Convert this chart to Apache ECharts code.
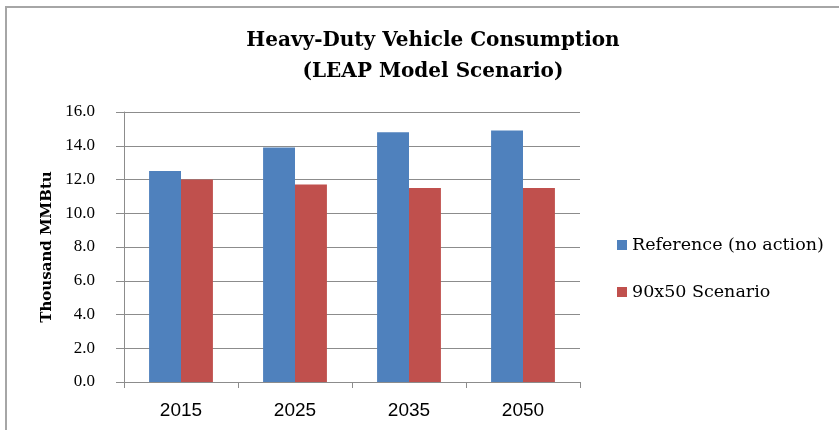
<!doctype html>
<html>
<head>
<meta charset="utf-8">
<script src="https://cdn.jsdelivr.net/npm/echarts@6/dist/echarts.min.js"></script>
<style>
  html, body { margin:0; padding:0; background:#fff; }
  #main { width:839px; height:430px; }
</style>
</head>
<body>
<div id="main"></div>
<script>
var years = ['2015', '2025', '2035', '2050'];
var referenceVals = [12.5, 13.9, 14.8, 14.9];
var scenarioVals = [12.0, 11.7, 11.5, 11.5];
var yTicks = [0, 2, 4, 6, 8, 10, 12, 14, 16];

var serif = '"DejaVu Serif", serif';
var tickSerif = '"Liberation Serif", serif';

var chart = echarts.init(document.getElementById('main'));

var option = {
  backgroundColor: '#fff',
  animation: false,
  graphic: [{
    type: 'rect',
    shape: { x: 6, y: 7, width: 900, height: 500 },
    style: { fill: 'none', stroke: '#a6a6a6', lineWidth: 2 },
    silent: true
  }],
  title: {
    text: 'Heavy-Duty Vehicle Consumption\n(LEAP Model Scenario)',
    left: 428,
    top: 20,
    textAlign: 'center',
    textStyle: {
      fontFamily: serif,
      fontWeight: 'bold',
      fontSize: 20,
      lineHeight: 31,
      color: '#000'
    }
  },
  legend: {
    orient: 'vertical',
    left: 612,
    top: 231,
    itemWidth: 10,
    itemHeight: 10,
    itemGap: 29,
    icon: 'rect',
    textStyle: { fontFamily: serif, fontSize: 17.5, color: '#000', padding: [0, 0, 0, 0] },
    data: ['Reference (no action)', '90x50 Scenario']
  },
  grid: {
    left: 124,
    right: 259,
    top: 112,
    bottom: 48
  },
  xAxis: {
    type: 'category',
    data: years,
    axisLine: { lineStyle: { color: '#8c8c8c', width: 1 } },
    axisTick: { show: true, length: 6, lineStyle: { color: '#8c8c8c' } },
    axisLabel: { fontFamily: '"Liberation Sans", sans-serif', fontSize: 19, color: '#000', margin: 19 }
  },
  yAxis: {
    type: 'value',
    min: 0,
    max: 16,
    interval: 2,
    name: 'Thousand MMBtu',
    nameLocation: 'middle',
    nameGap: 69,
    nameTextStyle: { fontFamily: serif, fontWeight: 'bold', fontSize: 15, color: '#000' },
    axisLine: { show: true, lineStyle: { color: '#8c8c8c' } },
    axisTick: { show: true, inside: false, length: 8, lineStyle: { color: '#8c8c8c' } },
    axisLabel: {
      fontFamily: tickSerif, fontSize: 17, color: '#000', margin: 29,
      formatter: function (v) { return yTicks.indexOf(v) >= 0 ? v.toFixed(1) : ''; }
    },
    splitLine: { show: true, lineStyle: { color: '#8c8c8c', width: 1 } }
  },
  series: [
    {
      name: 'Reference (no action)',
      type: 'bar',
      data: referenceVals,
      barGap: '0%',
      barCategoryGap: '44%',
      itemStyle: { color: '#4f81bd' }
    },
    {
      name: '90x50 Scenario',
      type: 'bar',
      data: scenarioVals,
      itemStyle: { color: '#c0504d' }
    }
  ]
};

chart.setOption(option);
</script>
</body>
</html>
